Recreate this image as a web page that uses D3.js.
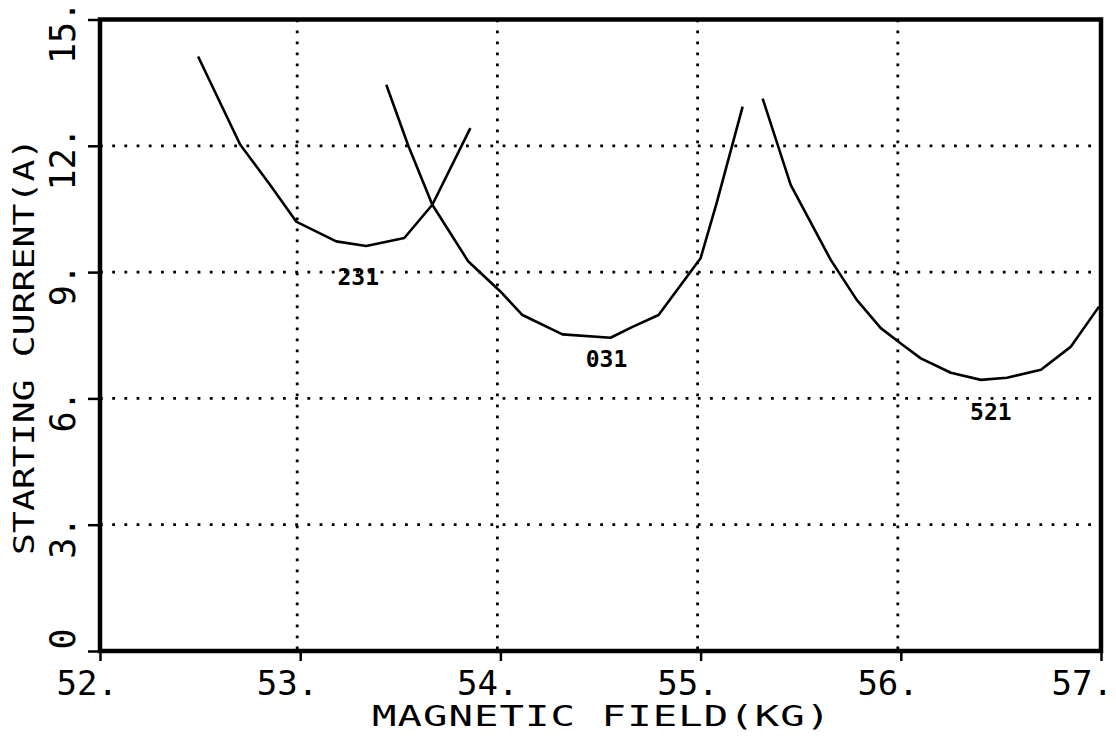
<!DOCTYPE html>
<html>
<head>
<meta charset="utf-8">
<script src="https://cdn.jsdelivr.net/npm/d3@7"></script>
<style>
  body { margin: 0; background: #fff; }
  text { font-family: "DejaVu Sans Mono", "Liberation Mono", monospace; fill: #000; }
</style>
</head>
<body>
<script>
// tick values
var xTicks = [52, 53, 54, 55, 56, 57];
var yTicks = [0, 3, 6, 9, 12, 15];
var xTickLabels = ["52.", "53.", "54.", "55.", "56.", "57."];
var yTickLabels = ["0", "3.", "6.", "9.", "12.", "15."];

// mode curves, [field kG, starting current A]
var mode231 = [[52.49, 14.12], [52.70, 12.03], [52.85, 11.07], [52.98, 10.2], [53.18, 9.73],
  [53.33, 9.62], [53.52, 9.81], [53.66, 10.6], [53.85, 12.42]];
var mode031 = [[53.43, 13.45], [53.54, 12.0], [53.66, 10.6], [53.84, 9.25], [54.0, 8.54],
  [54.11, 7.98], [54.31, 7.52], [54.55, 7.44], [54.66, 7.7], [54.79, 7.98], [55.0, 9.33],
  [55.08, 10.64], [55.21, 12.93]];
var mode521 = [[55.31, 13.12], [55.45, 11.07], [55.65, 9.29], [55.78, 8.34], [55.90, 7.67],
  [56.01, 7.27], [56.10, 6.95], [56.25, 6.61], [56.40, 6.44], [56.53, 6.49], [56.70, 6.68],
  [56.85, 7.23], [56.99, 8.18]];

var curveNames = ["231", "031", "521"];
// label anchor: [field, current] of the label baseline centre
var curveLabelPos = [[53.29, 8.7], [54.53, 6.75], [56.45, 5.49]];

var width = 1116, height = 738;
var plotLeft = 100, plotRight = 1101, plotTop = 19.5, plotBottom = 651;

var svg = d3.select("body").append("svg")
  .attr("width", width)
  .attr("height", height);

var x = d3.scaleLinear().domain([52, 57]).range([plotLeft, plotRight]);
var y = d3.scaleLinear().domain([0, 15]).range([plotBottom, plotTop]);

// dotted grid
svg.append("g").selectAll("line")
  .data(yTicks.slice(1, -1))
  .enter().append("line")
  .attr("x1", plotLeft).attr("x2", plotRight)
  .attr("y1", function (d) { return y(d); })
  .attr("y2", function (d) { return y(d); })
  .attr("stroke", "#000")
  .attr("stroke-width", 2.8)
  .attr("stroke-dasharray", "2.8,9.4");

svg.append("g").selectAll("line")
  .data(xTicks.slice(1, -1))
  .enter().append("line")
  .attr("x1", function (d) { return x(d) - 3; })
  .attr("x2", function (d) { return x(d) - 3; })
  .attr("y1", plotTop).attr("y2", plotBottom)
  .attr("stroke", "#000")
  .attr("stroke-width", 2.8)
  .attr("stroke-dasharray", "2.8,8.2");

// curves
var line = d3.line()
  .x(function (d) { return x(d[0]); })
  .y(function (d) { return y(d[1]); });

svg.append("g").selectAll("path")
  .data([mode231, mode031, mode521])
  .enter().append("path")
  .attr("d", line)
  .attr("fill", "none")
  .attr("stroke", "#000")
  .attr("stroke-width", 2.6)
  .attr("stroke-linejoin", "round");

svg.append("g").selectAll("text")
  .data(curveNames)
  .enter().append("text")
  .attr("x", function (d, i) { return x(curveLabelPos[i][0]); })
  .attr("y", function (d, i) { return y(curveLabelPos[i][1]); })
  .attr("text-anchor", "middle")
  .attr("font-size", 23)
  .attr("font-weight", "bold")
  .style("font-variant-numeric", "slashed-zero")
  .text(function (d) { return d; });

// axes
var xAxis = d3.axisBottom(x).tickValues(xTicks).tickSize(10).tickFormat("");
var yAxis = d3.axisLeft(y).tickValues(yTicks).tickSize(12).tickFormat("");

svg.append("g")
  .attr("transform", "translate(0," + plotBottom + ")")
  .call(xAxis)
  .call(function (g) { g.select(".domain").remove(); })
  .selectAll("line").attr("stroke", "#000").attr("stroke-width", 2.5);

svg.append("g")
  .attr("transform", "translate(" + plotLeft + ",0)")
  .call(yAxis)
  .call(function (g) { g.select(".domain").remove(); })
  .selectAll("line").attr("stroke", "#000").attr("stroke-width", 2.5);

// frame
svg.append("rect")
  .attr("x", plotLeft).attr("y", plotTop)
  .attr("width", plotRight - plotLeft).attr("height", plotBottom - plotTop)
  .attr("fill", "none")
  .attr("stroke", "#000")
  .attr("stroke-width", 4.5);

// tick labels
svg.append("g").selectAll("text")
  .data(xTicks)
  .enter().append("text")
  .attr("x", function (d, i) { return i === xTicks.length - 1 ? 1113 : x(d) + 18; })
  .attr("y", 695)
  .attr("text-anchor", "end")
  .attr("font-size", 34)
  .text(function (d, i) { return xTickLabels[i]; });

svg.append("g").selectAll("text")
  .data(yTicks)
  .enter().append("text")
  .attr("transform", function (d) {
    var cy = d === 0 ? y(d) - 12 : y(d) + 13;
    return "translate(75," + cy + ") rotate(-90)";
  })
  .attr("text-anchor", "middle")
  .attr("font-size", 35)
  .style("font-variant-numeric", "slashed-zero")
  .text(function (d, i) { return yTickLabels[i]; });

// axis titles (plotter lettering is wide, so stretch horizontally)
svg.append("text")
  .attr("transform", "translate(372,726) scale(1.45,1)")
  .attr("font-size", 28)
  .attr("textLength", 316)
  .attr("lengthAdjust", "spacing")
  .text("MAGNETIC FIELD(KG)");

svg.append("text")
  .attr("transform", "translate(34,555) rotate(-90) scale(1.3,1)")
  .attr("font-size", 28)
  .attr("textLength", 321)
  .attr("lengthAdjust", "spacing")
  .text("STARTING CURRENT(A)");
</script>
</body>
</html>
